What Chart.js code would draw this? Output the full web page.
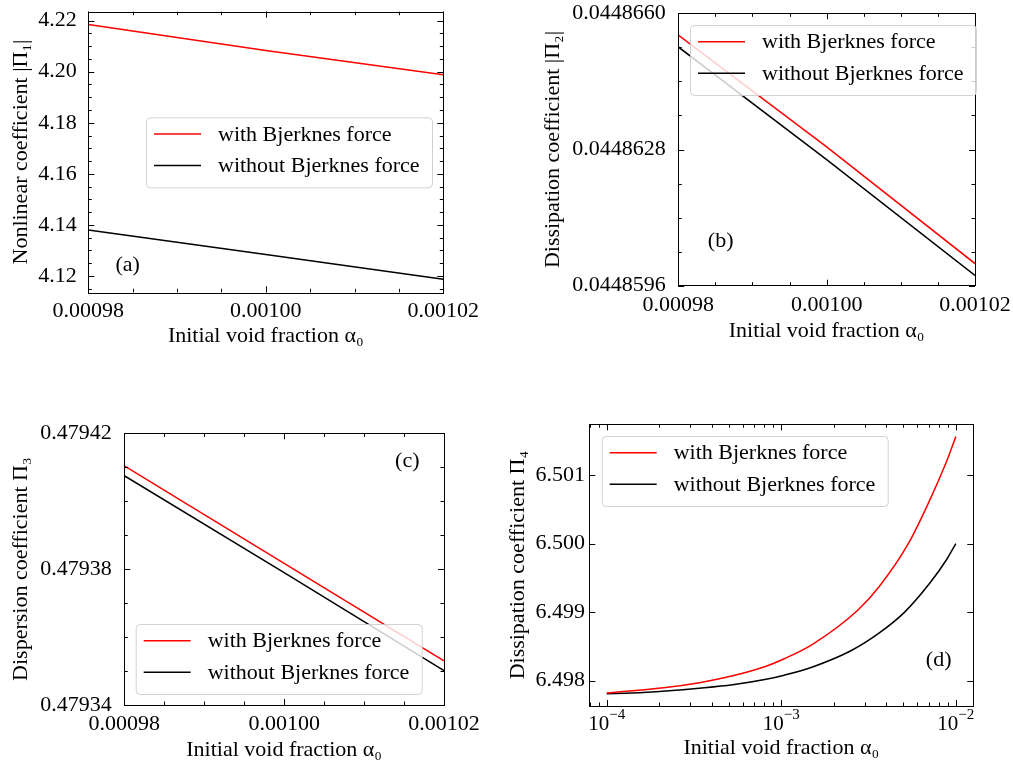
<!DOCTYPE html>
<html lang="en">
<head>
<meta charset="UTF-8">
<title>Coefficients vs initial void fraction</title>
<script src="https://cdn.jsdelivr.net/npm/chart.js"></script>
<style>
  html, body { margin:0; padding:0; background:#fff; }
  #wrap { position:relative; width:1013px; height:762px; }
  #wrap canvas { position:absolute; left:0; top:0; }
</style>
</head>
<body>
<div id="wrap">
  <canvas id="chartA" width="1013" height="762"></canvas>
  <canvas id="chartB" width="1013" height="762"></canvas>
  <canvas id="chartC" width="1013" height="762"></canvas>
  <canvas id="chartD" width="1013" height="762"></canvas>
</div>
<script>
// ---- data ----
const seriesLabels = ['with Bjerknes force', 'without Bjerknes force'];
const seriesColors = ['#ff0000', '#000000'];

const alphaLin = [0.00098, 0.00100, 0.00102];
const pi1With = [4.2185, 4.2083, 4.1988];
const pi1Without = [4.1380, 4.1284, 4.1187];
const pi2With = [0.04486549, 0.04486286, 0.04486012];
const pi2Without = [0.04486521, 0.04486256, 0.04485984];
const pi3With = [0.4794104, 0.4793817, 0.4793530];
const pi3Without = [0.4794075, 0.4793790, 0.4793501];

// panel (d), log x axis
const alphaWith = [1e-4, 2.18e-4, 3.39e-4, 5.26e-4, 8.18e-4, 1.04e-3, 1.51e-3, 2.75e-3, 3.66e-3, 5.32e-3, 7.08e-3, 8.82e-3, 1e-2];
const pi4With = [6.49782, 6.49790, 6.49797, 6.49807, 6.49821, 6.49832, 6.49853, 6.49903, 6.49938, 6.49999, 6.50063, 6.50119, 6.50156];
const alphaWithout = [1e-4, 1.4e-4, 2.18e-4, 3.39e-4, 5.26e-4, 8.18e-4, 1.04e-3, 1.51e-3, 2.52e-3, 3.66e-3, 5.09e-3, 7.08e-3, 8.82e-3, 1e-2];
const pi4Without = [6.49781, 6.49782, 6.49785, 6.49789, 6.49794, 6.49802, 6.49808, 6.49820, 6.49844, 6.49870, 6.49900, 6.49942, 6.49976, 6.50000];

const xTicksLin = [0.00098, 0.00100, 0.00102];
const xTicksLog = [1e-4, 1e-3, 1e-2];
const yTicksA = [4.12, 4.14, 4.16, 4.18, 4.20, 4.22];
const yTicksB = [0.0448596, 0.0448628, 0.0448660];
const yTicksC = [0.47934, 0.47938, 0.47942];
const yTicksD = [6.498, 6.499, 6.500, 6.501];

const W = 1013, H = 762;
const FONT = "'Liberation Serif', 'Times New Roman', serif";
Chart.defaults.font.family = FONT;
Chart.defaults.font.size = 22;
Chart.defaults.color = '#000';

function steps(start, step, n) {
  const out = [];
  for (let i = 0; i <= n; i++) out.push(start + i * step);
  return out;
}
const minorLinX = steps(0.00098, 0.000005, 8);
const minorLogX = [8e-5, 9e-5];
[1e-4, 1e-3].forEach(d => { for (let k = 2; k <= 9; k++) minorLogX.push(k * d); });

// frame, inward ticks, legend box and panel tag
const framePlugin = {
  id: 'frame',
  afterDatasetsDraw(chart, args, o) {
    const {ctx, chartArea: a} = chart;
    const x = chart.scales.x, y = chart.scales.y;
    ctx.save();
    ctx.strokeStyle = '#000';
    ctx.lineWidth = 1;
    const tickX = (vals, len) => vals.forEach(v => {
      const px = Math.round(x.getPixelForValue(v)) + 0.5;
      ctx.beginPath();
      ctx.moveTo(px, a.bottom); ctx.lineTo(px, a.bottom - len);
      ctx.moveTo(px, a.top); ctx.lineTo(px, a.top + len);
      ctx.stroke();
    });
    const tickY = (vals, len) => vals.forEach(v => {
      const py = Math.round(y.getPixelForValue(v)) + 0.5;
      ctx.beginPath();
      ctx.moveTo(a.left, py); ctx.lineTo(a.left + len, py);
      ctx.moveTo(a.right, py); ctx.lineTo(a.right - len, py);
      ctx.stroke();
    });
    tickX(o.minorX || [], 3.5);
    tickY(o.minorY || [], 3.5);
    tickX(x.ticks.map(t => t.value), 6);
    tickY(y.ticks.map(t => t.value), 6);
    ctx.strokeRect(Math.round(a.left) + 0.5, Math.round(a.top) + 0.5,
      Math.round(a.right - a.left), Math.round(a.bottom - a.top));

    // power-of-ten labels for log axis
    if (o.powerLabels) {
      x.ticks.forEach(t => {
        const px = x.getPixelForValue(t.value);
        const e = Math.round(Math.log10(t.value));
        const sup = (e < 0 ? '\u2212' : '') + Math.abs(e);
        ctx.font = '21px ' + FONT;
        const wb = ctx.measureText('10').width;
        ctx.font = '15px ' + FONT;
        const ws = ctx.measureText(sup).width;
        const x0 = px - (wb + ws) / 2;
        ctx.fillStyle = '#000';
        ctx.textBaseline = 'alphabetic';
        ctx.textAlign = 'left';
        ctx.font = '21px ' + FONT;
        ctx.fillText('10', x0, a.bottom + 24);
        ctx.font = '15px ' + FONT;
        ctx.fillText(sup, x0 + wb, a.bottom + 13);
      });
    }

    // legend
    const L = o.legend;
    ctx.fillStyle = 'rgba(255,255,255,0.8)';
    ctx.strokeStyle = 'rgba(204,204,204,0.9)';
    ctx.beginPath();
    ctx.roundRect(L.x + 0.5, L.y + 0.5, 286, 70, 4);
    ctx.fill();
    ctx.stroke();
    ctx.font = '22px ' + FONT;
    ctx.textBaseline = 'middle';
    ctx.textAlign = 'left';
    chart.data.datasets.forEach((ds, i) => {
      const ly = L.y + 16.7 + i * 31.5;
      ctx.strokeStyle = ds.borderColor;
      ctx.lineWidth = 1.5;
      ctx.beginPath();
      ctx.moveTo(L.x + 8, ly); ctx.lineTo(L.x + 55, ly);
      ctx.stroke();
      ctx.fillStyle = '#000';
      ctx.fillText(ds.label, L.x + 72, ly + 1);
    });

    // panel tag
    ctx.textAlign = 'center';
    ctx.fillText(o.tag.text, o.tag.x, o.tag.y);
    ctx.restore();
  }
};

function makePanel(id, p) {
  const a = p.area;
  const padLeft = p.yTitleX - 13.2;
  const xH = p.xTitleY + 13.2 - a.b;
  return new Chart(document.getElementById(id), {
    type: 'line',
    data: {
      datasets: p.series.map(([xs, ys], i) => ({
        label: seriesLabels[i],
        data: xs.map((xv, j) => ({x: xv, y: ys[j]})),
        borderColor: seriesColors[i],
        borderWidth: 1.5,
        pointRadius: 0,
        fill: false,
        cubicInterpolationMode: p.smooth ? 'monotone' : 'default',
        tension: 0
      }))
    },
    options: {
      responsive: false,
      animation: false,
      events: [],
      layout: {padding: {left: padLeft, top: a.t, right: W - a.r, bottom: H - a.b - xH}},
      plugins: {
        legend: {display: false},
        tooltip: {enabled: false},
        frame: {minorX: p.minorX, minorY: p.minorY, legend: p.legend, tag: p.tag, powerLabels: p.xType === 'logarithmic'}
      },
      scales: {
        x: {
          type: p.xType,
          min: p.xMin, max: p.xMax,
          grid: {display: false, drawTicks: false},
          border: {display: false},
          ticks: {
            padding: 6, autoSkip: false, maxRotation: 0,
            callback: v => p.xType === 'logarithmic' ? '' : Number(v).toFixed(5)
          },
          title: {display: true, text: 'Initial void fraction α₀', padding: 0},
          afterBuildTicks: s => { s.ticks = p.xTicks.map(v => ({value: v})); },
          afterFit: s => { s.height = xH; s.paddingLeft = 0; s.paddingRight = 0; }
        },
        y: {
          type: 'linear',
          min: p.yMin, max: p.yMax,
          grid: {display: false, drawTicks: false},
          border: {display: false},
          ticks: {padding: p.yPad, autoSkip: false, callback: v => Number(v).toFixed(p.yDec)},
          title: {display: true, text: p.yTitle, padding: 0},
          afterBuildTicks: s => { s.ticks = p.yTicks.map(v => ({value: v})); },
          afterFit: s => { s.width = a.l - padLeft; s.paddingTop = 0; s.paddingBottom = 0; }
        }
      }
    },
    plugins: [framePlugin]
  });
}

makePanel('chartA', {
  area: {l: 88.3, t: 11.7, r: 443.3, b: 292.3},
  series: [[alphaLin, pi1With], [alphaLin, pi1Without]],
  xType: 'linear', xMin: 0.00098, xMax: 0.00102, xTicks: xTicksLin, minorX: minorLinX,
  yMin: 4.1136, yMax: 4.2235, yTicks: yTicksA, yDec: 2, minorY: steps(4.115, 0.005, 21), yPad: 11.6,
  yTitle: 'Nonlinear coefficient |Π₁|', yTitleX: 21.7, xTitleY: 336.7,
  legend: {x: 146, y: 117.3}, tag: {text: '(a)', x: 127.7, y: 265}
});
makePanel('chartB', {
  area: {l: 678.3, t: 13.3, r: 975, b: 285.7},
  series: [[alphaLin, pi2With], [alphaLin, pi2Without]],
  xType: 'linear', xMin: 0.00098, xMax: 0.00102, xTicks: xTicksLin, minorX: minorLinX,
  yMin: 0.0448596, yMax: 0.0448660, yTicks: yTicksB, yDec: 7, minorY: steps(0.0448596, 0.0000008, 8), yPad: 12.6,
  yTitle: 'Dissipation coefficient |Π₂|', yTitleX: 553.3, xTitleY: 331.7,
  legend: {x: 690, y: 25}, tag: {text: '(b)', x: 720.7, y: 241.7}
});
makePanel('chartC', {
  area: {l: 124.3, t: 433.3, r: 444, b: 705},
  series: [[alphaLin, pi3With], [alphaLin, pi3Without]],
  xType: 'linear', xMin: 0.00098, xMax: 0.00102, xTicks: xTicksLin, minorX: minorLinX,
  yMin: 0.47934, yMax: 0.47942, yTicks: yTicksC, yDec: 5, minorY: steps(0.47934, 0.00001, 8), yPad: 12.6,
  yTitle: 'Dispersion coefficient Π₃', yTitleX: 21.7, xTitleY: 750,
  legend: {x: 135.7, y: 624}, tag: {text: '(c)', x: 407.3, y: 461.7}
});
makePanel('chartD', {
  area: {l: 589.3, t: 424.3, r: 973.3, b: 706},
  series: [[alphaWith, pi4With], [alphaWithout, pi4Without]], smooth: true,
  xType: 'logarithmic', xMin: Math.pow(10, -4.1), xMax: Math.pow(10, -1.9), xTicks: xTicksLog, minorX: minorLogX,
  yMin: 6.49763, yMax: 6.50174, yTicks: yTicksD, yDec: 3, minorY: [], yPad: 4.3,
  yTitle: 'Dissipation coefficient Π₄', yTitleX: 518.3, xTitleY: 748.3,
  legend: {x: 601.7, y: 436}, tag: {text: '(d)', x: 938.7, y: 660.7}
});
</script>
</body>
</html>
